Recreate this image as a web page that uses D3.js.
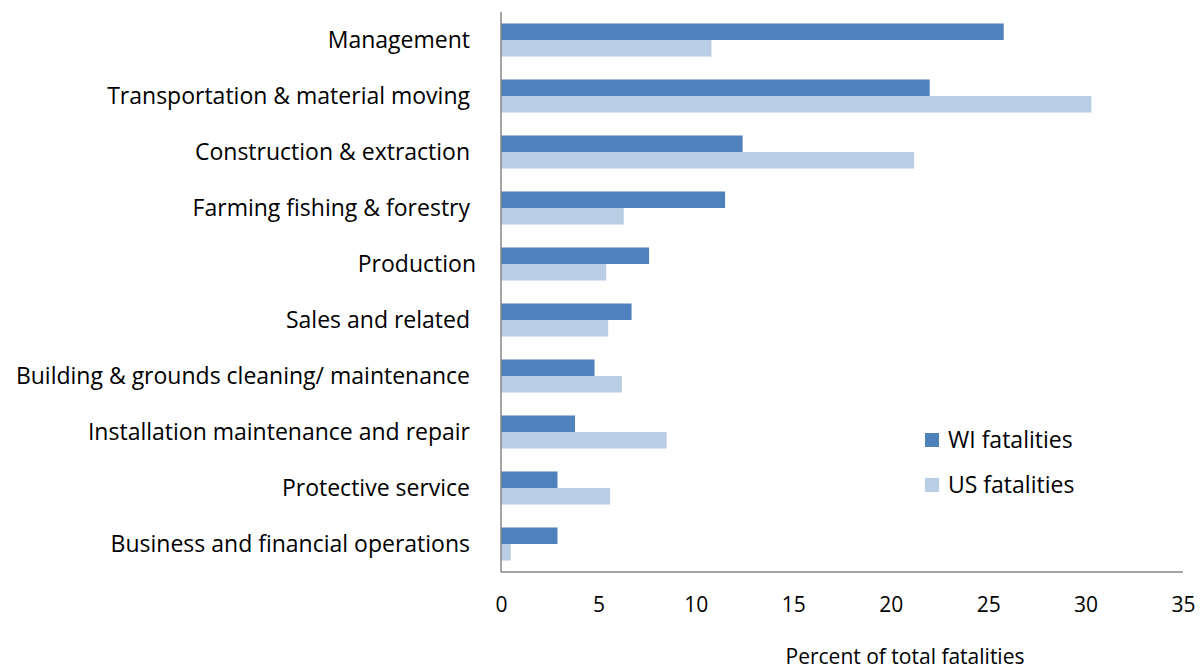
<!DOCTYPE html>
<html>
<head>
<meta charset="utf-8">
<script src="https://cdn.jsdelivr.net/npm/d3@7"></script>
<style>
  html, body { margin: 0; padding: 0; background: #fff; }
  svg { display: block; font-family: "Open Sans", Lato, sans-serif; }
  .cat { white-space: pre; }
</style>
</head>
<body>
<svg id="chart" width="1200" height="670"></svg>
<script>
// Occupation groups, top to bottom (trailing spaces kept as in the source sheet)
const categories = [
  "Management ",
  "Transportation & material moving ",
  "Construction & extraction ",
  "Farming fishing & forestry ",
  "Production",
  "Sales and related ",
  "Building & grounds cleaning/ maintenance ",
  "Installation maintenance and repair ",
  "Protective service ",
  "Business and financial operations "
];
// Percent of total fatalities
const wiValues = [25.8, 22.0, 12.4, 11.5, 7.6, 6.7, 4.8, 3.8, 2.9, 2.9];
const usValues = [10.8, 30.3, 21.2, 6.3, 5.4, 5.5, 6.2, 8.5, 5.6, 0.5];
const seriesNames = ["WI fatalities", "US fatalities"];
const seriesColors = ["#4F81BD", "#B9CDE5"];
const xTicks = [0, 5, 10, 15, 20, 25, 30, 35];

const LABEL_FONT = 23;
const AXIS_FONT = 21;
const svg = d3.select("#chart");
const plot = { left: 501, right: 1183, top: 12, bottom: 572 };

const x = d3.scaleLinear().domain([0, 35]).range([plot.left, plot.right]);
const y = d3.scaleBand().domain(categories).range([plot.top, plot.bottom]).paddingInner(0.41).paddingOuter(0.205);
const sub = d3.scaleBand().domain(seriesNames).range([0, y.bandwidth()]);

const rows = categories.map((c, i) => ({ cat: c, vals: [wiValues[i], usValues[i]] }));

const groups = svg.append("g").selectAll("g")
  .data(rows).join("g")
  .attr("transform", d => `translate(0,${y(d.cat)})`);

groups.selectAll("rect")
  .data(d => d.vals.map((v, k) => ({ v, k })))
  .join("rect")
  .attr("x", x(0))
  .attr("y", d => sub(seriesNames[d.k]))
  .attr("width", d => x(d.v) - x(0))
  .attr("height", sub.bandwidth())
  .attr("fill", d => seriesColors[d.k]);

// Category labels
svg.append("g").selectAll("text")
  .data(categories).join("text")
  .attr("class", "cat")
  .attr("x", 476)
  .attr("y", d => y(d) + y.bandwidth() / 2)
  .attr("dy", "0.35em")
  .attr("text-anchor", "end")
  .attr("font-size", LABEL_FONT)
  .attr("fill", "#000")
  .text(d => d);

// Axis lines
svg.append("line")
  .attr("x1", plot.left).attr("x2", plot.left)
  .attr("y1", plot.top).attr("y2", plot.bottom)
  .attr("stroke", "#868686").attr("stroke-width", 1.5);
svg.append("line")
  .attr("x1", plot.left).attr("x2", plot.right)
  .attr("y1", plot.bottom).attr("y2", plot.bottom)
  .attr("stroke", "#868686").attr("stroke-width", 1.5);

// Tick labels
const xAxis = d3.axisBottom(x).tickValues(xTicks).tickSize(0).tickPadding(0);
const gx = svg.append("g")
  .attr("transform", `translate(0,${plot.bottom + 25})`)
  .call(xAxis);
gx.select(".domain").remove();
gx.selectAll("text")
  .attr("font-size", AXIS_FONT)
  .attr("font-family", "'Open Sans', Lato, sans-serif")
  .attr("fill", "#000");

// Axis title
svg.append("text")
  .attr("x", 905).attr("y", 664)
  .attr("text-anchor", "middle")
  .attr("font-size", AXIS_FONT)
  .attr("fill", "#000")
  .text("Percent of total fatalities");

// Legend
const legend = svg.append("g").selectAll("g")
  .data(seriesNames).join("g")
  .attr("transform", (d, i) => `translate(925,${433 + i * 45})`);
legend.append("rect")
  .attr("width", 14).attr("height", 14)
  .attr("fill", (d, i) => seriesColors[i]);
legend.append("text")
  .attr("x", 23).attr("y", 7)
  .attr("dy", "0.35em")
  .attr("font-size", LABEL_FONT)
  .attr("fill", "#000")
  .text(d => d);
</script>
</body>
</html>
